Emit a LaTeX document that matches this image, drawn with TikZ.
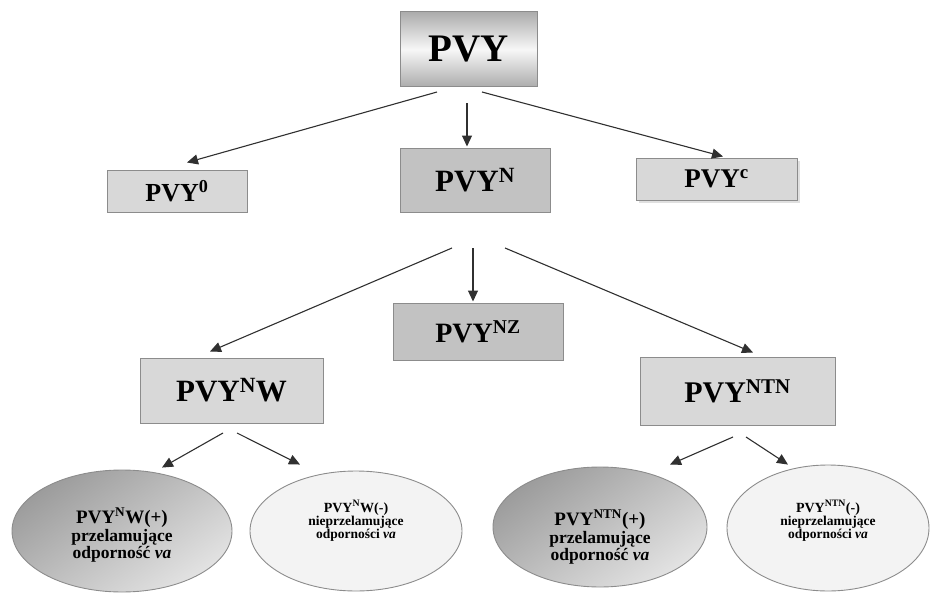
\documentclass[tikz,border=0pt]{standalone}
\usepackage{fontspec}
\setmainfont{Liberation Serif}
\usetikzlibrary{arrows.meta,shapes.geometric,shadows}
\definecolor{boxlight}{HTML}{D8D8D8}
\definecolor{boxdark}{HTML}{C2C2C2}
\definecolor{edgegray}{HTML}{8C8C8C}
\definecolor{linegray}{HTML}{303030}
\definecolor{elight}{HTML}{F3F3F3}
\tikzset{
  box/.style={draw=edgegray, line width=1pt, inner sep=0pt, font=\bfseries},
  lbox/.style={box, fill=boxlight},
  dbox/.style={box, fill=boxdark},
  ell/.style={ellipse, draw=edgegray, line width=0.9pt, inner sep=0pt},
  dell/.style={ell, top color=gray!78, bottom color=gray!22, shading angle=35},
  lell/.style={ell, fill=elight},
  etext/.style={align=center, font=\bfseries, inner sep=0pt},
  arr/.style={draw=linegray, line width=1.1pt, -{Triangle[length=11pt,width=10pt]}},
}
\begin{document}
\begin{tikzpicture}[x=1pt,y=-1pt]
\useasboundingbox (0,0) rectangle (932,594);
% top
\node[box, minimum width=137pt, minimum height=75pt, top color=gray!65, bottom color=gray!65, middle color=gray!6,
      font=\bfseries\fontsize{39}{41}\selectfont] (top) at (468.5,49.5) {PVY};
% level 1
\node[lbox, minimum width=140pt, minimum height=42pt, font=\bfseries\fontsize{26}{28}\selectfont] (p0) at (177,191) {PVY\textsuperscript{0}};
\node[dbox, minimum width=150pt, minimum height=64pt, font=\bfseries\fontsize{31}{33}\selectfont] (pN) at (475,180) {PVY\textsuperscript{N}};
\node[lbox, minimum width=161pt, minimum height=42pt, drop shadow={shadow xshift=3pt, shadow yshift=-3pt, fill=gray!40, opacity=0.6},
      font=\bfseries\fontsize{27}{29}\selectfont] (pc) at (716.5,179) {PVY\textsuperscript{c}};
% level 2
\node[dbox, minimum width=170pt, minimum height=57pt, font=\bfseries\fontsize{28}{30}\selectfont] (pNZ) at (478,331.5) {PVY\textsuperscript{NZ}};
\node[lbox, minimum width=183pt, minimum height=65pt, font=\bfseries\fontsize{31}{33}\selectfont] (pNW) at (231.5,390.5) {PVY\textsuperscript{N}W};
\node[lbox, minimum width=195pt, minimum height=68pt, font=\bfseries\fontsize{30}{32}\selectfont] (pNTN) at (737.5,391) {PVY\textsuperscript{NTN}};
% level 3 ellipses
\node[dell, minimum width=220pt, minimum height=122pt] (e1) at (122,531) {};
\node[lell, minimum width=212pt, minimum height=120pt] (e2) at (356,531) {};
\node[dell, minimum width=214pt, minimum height=120pt] (e3) at (600,527) {};
\node[lell, minimum width=202pt, minimum height=126pt] (e4) at (828,528) {};
\node[etext] (e1t) at (122,535) {{\fontsize{19}{21}\selectfont PVY\textsuperscript{N}W(+)}\\[1pt]
  {\fontsize{17.5}{19}\selectfont przelamujące}\\[0pt]{\fontsize{17.5}{19}\selectfont odporność \textit{va}}};
\node[etext] (e2t) at (356,521) {{\fontsize{14}{16}\selectfont PVY\textsuperscript{N}W(-)}\\[0pt]
  {\fontsize{13.5}{15.5}\selectfont nieprzelamujące}\\[0pt]{\fontsize{13.5}{15.5}\selectfont odporności \textit{va}}};
\node[etext] (e3t) at (600,537) {{\fontsize{19}{21}\selectfont PVY\textsuperscript{NTN}(+)}\\[1pt]
  {\fontsize{17.5}{19}\selectfont przelamujące}\\[0pt]{\fontsize{17.5}{19}\selectfont odporność \textit{va}}};
\node[etext] (e4t) at (828,521) {{\fontsize{14}{16}\selectfont PVY\textsuperscript{NTN}(-)}\\[0pt]
  {\fontsize{13.5}{15.5}\selectfont nieprzelamujące}\\[0pt]{\fontsize{13.5}{15.5}\selectfont odporności \textit{va}}};
% connector start points
\coordinate (s1) at (437,92);
\coordinate (s2) at (467,103);
\coordinate (s3) at (482,92);
\coordinate (s4) at (452,248);
\coordinate (s5) at (473,248);
\coordinate (s6) at (505,248);
\coordinate (s7) at (223,433);
\coordinate (s8) at (237,433);
\coordinate (s9) at (733,437);
\coordinate (s10) at (746,437);
% connectors
\draw[arr] (s1) -- ([xshift=10pt,yshift=7pt]p0.north);
\draw[arr] (s2) -- ([xshift=-8pt,yshift=1pt]pN.north);
\draw[arr] (s3) -- ([xshift=6.5pt,yshift=1pt]pc.north);
\draw[arr] (s4) -- ([xshift=-21.5pt,yshift=6pt]pNW.north);
\draw[arr] (s5) -- ([xshift=-5pt,yshift=1pt]pNZ.north);
\draw[arr] (s6) -- ([xshift=15.5pt,yshift=4pt]pNTN.north);
\draw[arr] (s7) -- ([xshift=40pt,yshift=2pt]e1.north);
\draw[arr] (s8) -- ([xshift=-56pt,yshift=6pt]e2.north);
\draw[arr] (s9) -- ([xshift=70pt,yshift=2pt]e3.north);
\draw[arr] (s10) -- ([xshift=-40pt,yshift=0pt]e4.north);
\end{tikzpicture}
\end{document}
